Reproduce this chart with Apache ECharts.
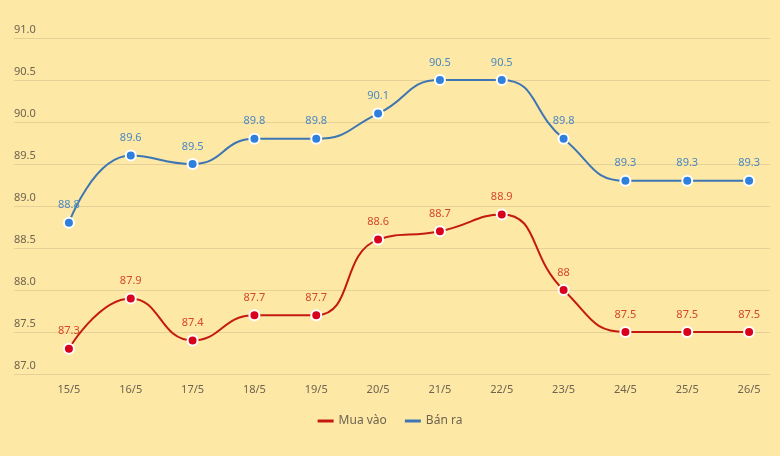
<!DOCTYPE html>
<html><head><meta charset="utf-8">
<script src="https://cdn.jsdelivr.net/npm/echarts@6/dist/echarts.min.js"></script>
<style>html,body{margin:0;padding:0;background:#fde8a6;}#c{width:780px;height:456px;}</style>
</head><body><div id="c"></div>
<script>
const categories = ['15/5','16/5','17/5','18/5','19/5','20/5','21/5','22/5','23/5','24/5','25/5','26/5'];
const muaVao = [87.3, 87.9, 87.4, 87.7, 87.7, 88.6, 88.7, 88.9, 88, 87.5, 87.5, 87.5];
const banRa = [88.8, 89.6, 89.5, 89.8, 89.8, 90.1, 90.5, 90.5, 89.8, 89.3, 89.3, 89.3];
const yMin = 87, yMax = 91, yStep = 0.5;

const font = 'Noto Sans';
const chart = echarts.init(document.getElementById('c'));
chart.setOption({
  backgroundColor: '#fde8a6',
  textStyle: {fontFamily: font},
  animation: false,
  grid: [
    {left: 14, right: 10, top: 38, bottom: 82},
    {left: 38, right: -1, top: 38, bottom: 82}
  ],
  xAxis: [
    {gridIndex: 0, type: 'category', data: categories, show: false},
    {gridIndex: 1, type: 'category', data: categories, boundaryGap: true,
     axisLine: {show: false}, axisTick: {show: false},
     axisLabel: {color: '#6e6450', fontSize: 11, margin: 10, fontFamily: font}}
  ],
  yAxis: [
    {gridIndex: 0, type: 'value', min: yMin, max: yMax, interval: yStep,
     axisLine: {show: false}, axisTick: {show: false},
     splitLine: {lineStyle: {color: '#e6d096', width: 1}},
     axisLabel: {inside: true, margin: 0, verticalAlign: 'bottom', padding: [0,0,3,0],
       color: '#6e6450', fontSize: 11, fontFamily: font,
       formatter: v => v.toFixed(1)}},
    {gridIndex: 1, type: 'value', min: yMin, max: yMax, interval: yStep, show: false,
     splitLine: {show: false}}
  ],
  legend: {
    bottom: 24, left: 'center', icon: 'rect', itemWidth: 16, itemHeight: 3, itemGap: 18,
    textStyle: {color: '#6e6450', fontSize: 12, fontFamily: font},
    data: [
      {name: 'Mua vào', itemStyle: {color: '#c41a10', borderWidth: 0}},
      {name: 'Bán ra', itemStyle: {color: '#3d76b2', borderWidth: 0}}
    ]
  },
  series: [
    {name: 'Mua vào', type: 'line', xAxisIndex: 1, yAxisIndex: 1, data: muaVao, smooth: true,
     symbol: 'circle', symbolSize: 10,
     lineStyle: {color: '#c41a10', width: 2},
     itemStyle: {color: '#d8001c', borderColor: '#ffffff', borderWidth: 2},
     label: {show: true, position: 'top', distance: 6, color: '#d4482c', fontSize: 11, fontFamily: font}},
    {name: 'Bán ra', type: 'line', xAxisIndex: 1, yAxisIndex: 1, data: banRa, smooth: true,
     symbol: 'circle', symbolSize: 10,
     lineStyle: {color: '#3d76b2', width: 2},
     itemStyle: {color: '#2f80dc', borderColor: '#ffffff', borderWidth: 2},
     label: {show: true, position: 'top', distance: 6, color: '#4a88c2', fontSize: 11, fontFamily: font}}
  ]
});
</script></body></html>
